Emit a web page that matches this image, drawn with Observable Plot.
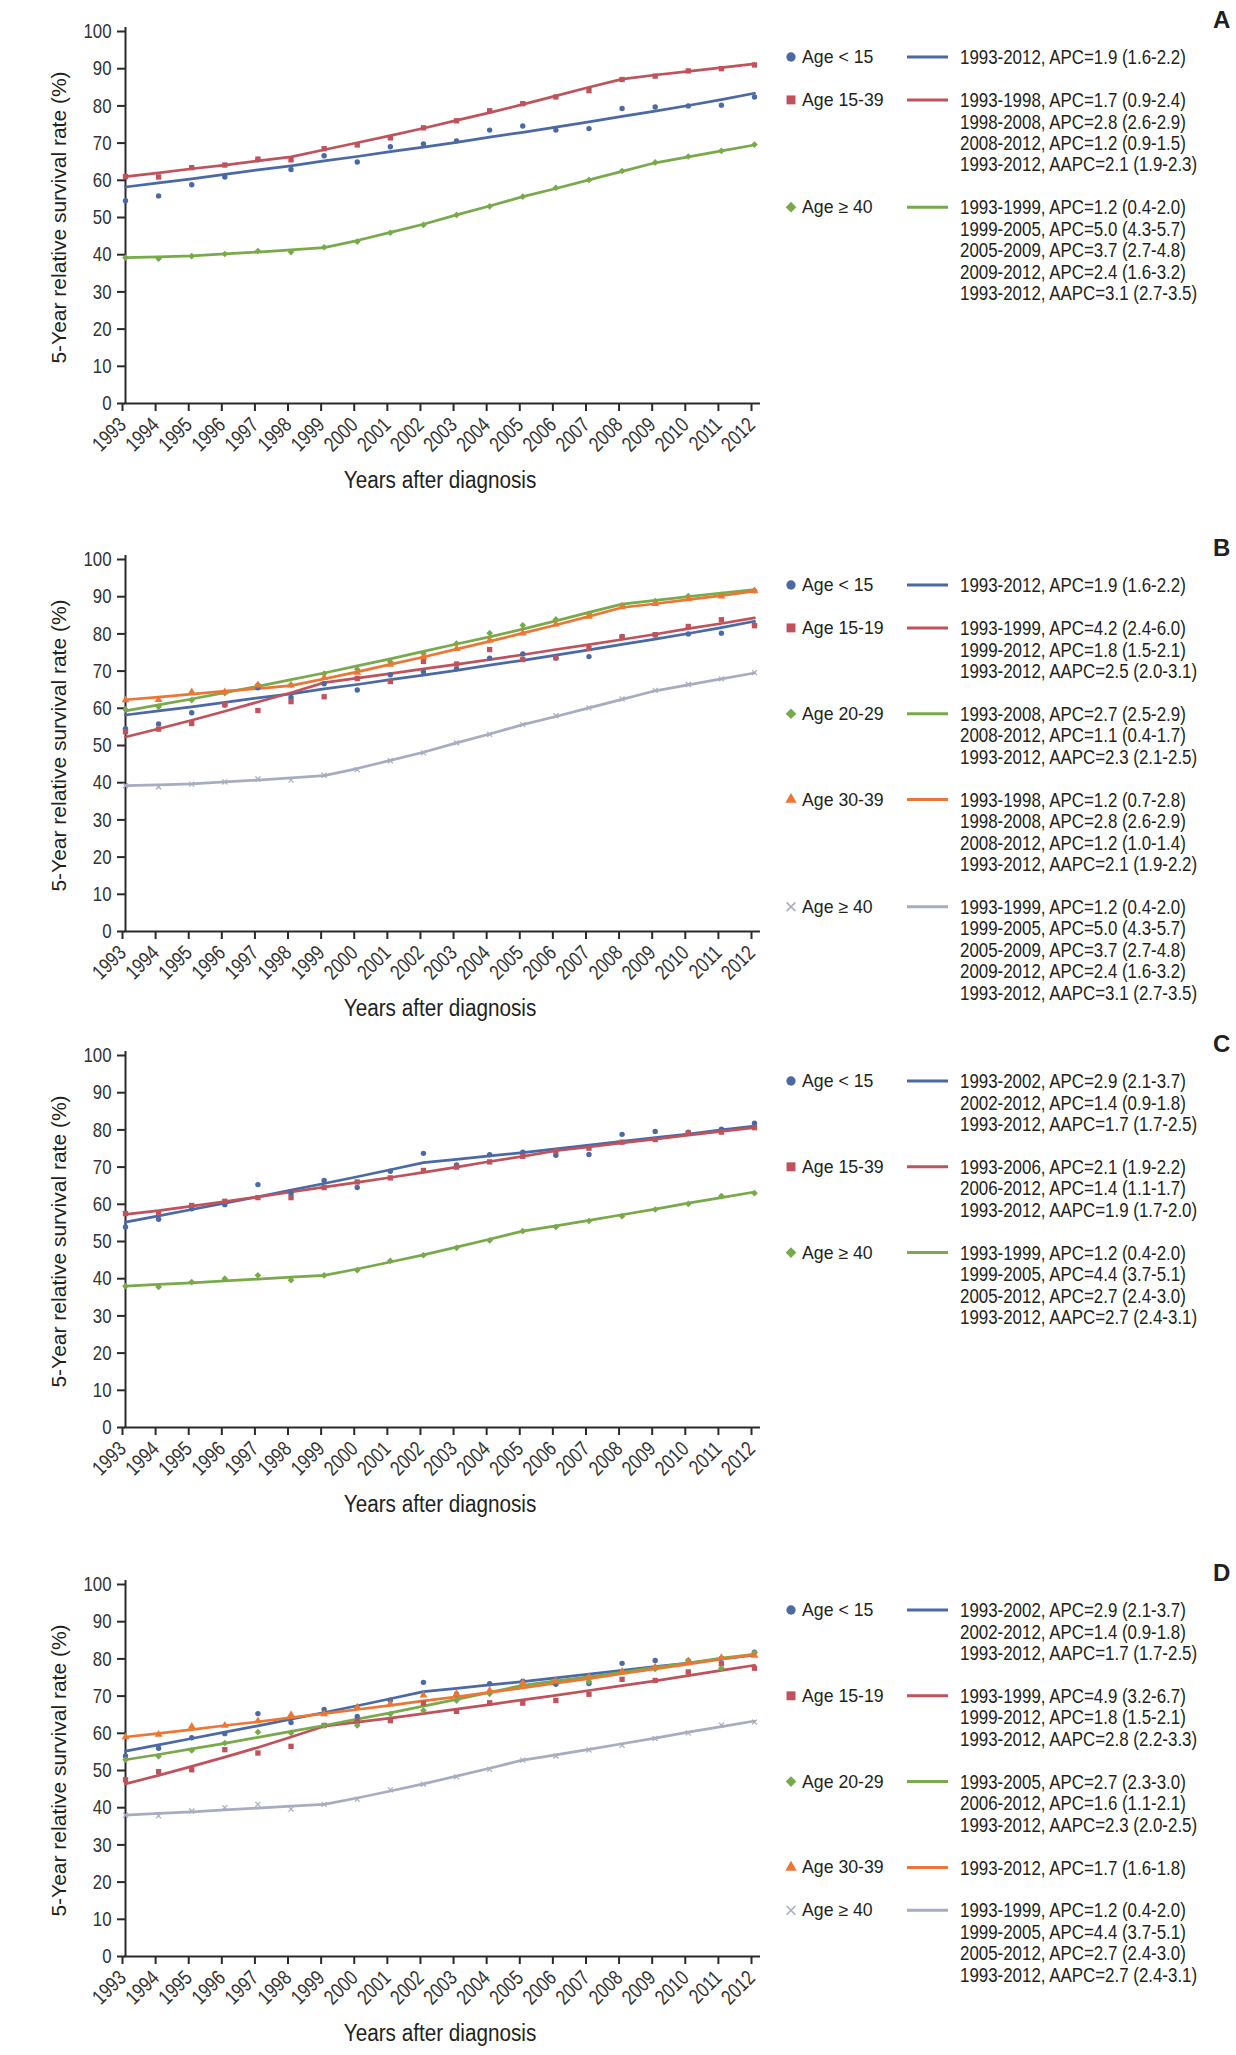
<!DOCTYPE html>
<html><head><meta charset="utf-8">
<script src="https://cdn.jsdelivr.net/npm/d3@7"></script>
<script src="https://cdn.jsdelivr.net/npm/@observablehq/plot@0.6"></script>
<style>
html,body{margin:0;padding:0;background:#fff;}
#page{position:relative;width:1236px;height:2055px;overflow:hidden;background:#fff;font-family:"Liberation Sans",Arial,sans-serif;color:#231f20;}
.plotbox{position:absolute;left:0;width:780px;}
#legend{position:absolute;left:0;top:0;pointer-events:none;}
</style></head><body><div id="page"></div>
<script>
// ---------- shared axes ----------
const years = [1993,1994,1995,1996,1997,1998,1999,2000,2001,2002,2003,2004,2005,2006,2007,2008,2009,2010,2011,2012];
const yTicks = [0,10,20,30,40,50,60,70,80,90,100];
const xTitle = "Years after diagnosis";
const yTitle = "5-Year relative survival rate (%)";
const panelLetters = ["A","B","C","D"];

// ---------- panels A & B : shared series ----------
const ab_lt15_obs = [54.5,55.8,58.8,60.9,65.5,62.9,66.6,64.9,69.0,69.8,70.6,73.5,74.6,73.5,73.9,79.3,79.7,80.0,80.2,82.4];
const ab_lt15_fit = [58.2,59.3,60.4,61.6,62.8,63.9,65.2,66.4,67.7,68.9,70.2,71.6,72.9,74.3,75.7,77.2,78.6,80.1,81.7,83.4];
const ab_ge40_obs = [39.2,38.9,39.6,40.2,41.0,40.7,42.0,43.5,45.9,48.0,50.7,53.0,55.6,58.0,60.1,62.5,64.8,66.4,67.9,69.6];
const ab_ge40_fit = [39.2,39.4,39.7,40.2,40.7,41.3,41.9,43.8,46.0,48.2,50.7,53.1,55.6,57.8,60.1,62.4,64.7,66.3,67.9,69.5];
// panel A : 15-39
const a_15_39_obs = [61.0,60.9,63.4,64.1,65.7,65.5,68.5,69.5,71.4,74.1,76.0,78.7,80.6,82.4,84.1,87.1,88.0,89.4,90.0,91.0];
const a_15_39_fit = [61.0,62.0,63.1,64.1,65.2,66.3,68.2,70.1,72.0,74.0,76.1,78.2,80.4,82.7,85.0,87.2,88.3,89.3,90.3,91.3];
// panel B : 15-19, 20-29, 30-39
const b_15_19_obs = [53.7,54.4,55.9,61.0,59.4,61.8,63.1,68.0,67.2,72.6,71.9,75.8,73.1,73.6,76.1,79.2,79.8,82.0,83.8,82.2];
const b_15_19_fit = [52.3,54.5,56.8,59.2,61.7,64.2,66.9,68.1,69.3,70.6,71.8,73.1,74.4,75.8,77.1,78.5,79.9,81.4,82.8,84.3];
const b_20_29_obs = [59.7,60.4,62.2,64.1,66.4,66.3,69.3,70.5,72.5,74.7,77.4,80.2,82.3,83.9,85.4,87.7,88.8,90.2,90.5,91.7];
const b_20_29_fit = [59.3,60.9,62.5,64.2,65.9,67.7,69.5,71.4,73.3,75.3,77.3,79.2,81.3,83.5,85.8,88.0,89.0,90.0,91.0,91.9];
const b_30_39_obs = [62.2,62.3,64.4,64.4,66.2,66.2,68.2,69.6,71.8,73.8,76.0,78.3,80.2,82.6,84.7,87.2,88.1,89.4,90.1,91.5];
const b_30_39_fit = [62.3,63.0,63.8,64.6,65.3,66.1,67.9,69.8,71.8,73.8,75.9,78.0,80.2,82.4,84.7,87.1,88.1,89.2,90.3,91.5];

// ---------- panels C & D : shared series ----------
const cd_lt15_obs = [53.9,56.0,58.8,59.9,65.3,62.9,66.4,64.5,68.9,73.7,70.6,73.3,74.0,73.2,73.4,78.8,79.6,79.4,80.2,81.8];
const cd_lt15_fit = [55.2,56.9,58.6,60.3,62.0,63.8,65.6,67.4,69.3,71.2,72.1,73.0,73.9,74.9,75.9,76.9,77.9,78.9,80.0,81.0];
const cd_ge40_obs = [38.0,37.8,39.1,40.0,40.9,39.6,40.9,42.3,44.8,46.3,48.3,50.3,52.8,53.9,55.5,56.8,58.6,60.1,62.2,63.0];
const cd_ge40_fit = [38.0,38.5,38.9,39.4,39.9,40.4,40.9,42.6,44.5,46.4,48.5,50.6,52.8,54.2,55.7,57.2,58.7,60.3,61.8,63.3];
// panel C : 15-39
const c_15_39_obs = [57.5,57.7,59.7,60.8,61.8,61.8,64.5,66.0,67.1,69.1,70.0,71.4,72.9,74.3,75.1,76.7,77.4,79.2,79.4,80.6];
const c_15_39_fit = [57.3,58.3,59.5,60.7,62.0,63.3,64.6,65.9,67.2,68.6,70.0,71.5,72.9,74.4,75.4,76.5,77.5,78.6,79.6,80.6];
// panel D : 15-19, 20-29, 30-39
const d_15_19_obs = [47.5,49.7,50.2,55.6,54.7,56.5,62.1,63.2,63.4,68.1,65.9,68.2,68.1,68.8,70.5,74.5,74.2,76.5,78.7,77.5];
const d_15_19_fit = [46.4,48.7,51.1,53.6,56.2,59.0,61.9,63.0,64.1,65.3,66.5,67.7,69.0,70.2,71.5,72.8,74.1,75.5,76.9,78.3];
const d_20_29_obs = [52.9,53.8,55.4,57.4,60.3,60.1,62.1,62.1,65.2,66.1,68.8,70.6,73.6,74.2,73.9,76.4,77.3,79.7,77.5,81.7];
const d_20_29_fit = [52.9,54.3,55.8,57.3,58.9,60.5,62.1,63.8,65.5,67.3,69.1,71.0,72.9,74.1,75.2,76.4,77.7,78.9,80.2,81.2];
const d_30_39_obs = [59.0,59.7,61.8,62.1,63.3,65.0,65.2,67.0,67.9,70.2,70.6,71.5,73.5,73.9,75.1,76.6,77.8,79.1,80.3,80.9];
const d_30_39_fit = [59.0,60.0,61.0,62.1,63.1,64.2,65.3,66.4,67.5,68.7,69.8,71.0,72.2,73.5,74.7,76.0,77.3,78.6,79.9,81.2];

// ---------- legend texts ----------
const lab_lt15 = "Age < 15", lab_15_39 = "Age 15-39", lab_ge40 = "Age \u2265 40",
      lab_15_19 = "Age 15-19", lab_20_29 = "Age 20-29", lab_30_39 = "Age 30-39";
const ab_lt15_apc = ["1993-2012, APC=1.9 (1.6-2.2)"];
const a_15_39_apc = ["1993-1998, APC=1.7 (0.9-2.4)","1998-2008, APC=2.8 (2.6-2.9)","2008-2012, APC=1.2 (0.9-1.5)","1993-2012, AAPC=2.1 (1.9-2.3)"];
const ab_ge40_apc = ["1993-1999, APC=1.2 (0.4-2.0)","1999-2005, APC=5.0 (4.3-5.7)","2005-2009, APC=3.7 (2.7-4.8)","2009-2012, APC=2.4 (1.6-3.2)","1993-2012, AAPC=3.1 (2.7-3.5)"];
const b_15_19_apc = ["1993-1999, APC=4.2 (2.4-6.0)","1999-2012, APC=1.8 (1.5-2.1)","1993-2012, AAPC=2.5 (2.0-3.1)"];
const b_20_29_apc = ["1993-2008, APC=2.7 (2.5-2.9)","2008-2012, APC=1.1 (0.4-1.7)","1993-2012, AAPC=2.3 (2.1-2.5)"];
const b_30_39_apc = ["1993-1998, APC=1.2 (0.7-2.8)","1998-2008, APC=2.8 (2.6-2.9)","2008-2012, APC=1.2 (1.0-1.4)","1993-2012, AAPC=2.1 (1.9-2.2)"];
const cd_lt15_apc = ["1993-2002, APC=2.9 (2.1-3.7)","2002-2012, APC=1.4 (0.9-1.8)","1993-2012, AAPC=1.7 (1.7-2.5)"];
const c_15_39_apc = ["1993-2006, APC=2.1 (1.9-2.2)","2006-2012, APC=1.4 (1.1-1.7)","1993-2012, AAPC=1.9 (1.7-2.0)"];
const cd_ge40_apc = ["1993-1999, APC=1.2 (0.4-2.0)","1999-2005, APC=4.4 (3.7-5.1)","2005-2012, APC=2.7 (2.4-3.0)","1993-2012, AAPC=2.7 (2.4-3.1)"];
const d_15_19_apc = ["1993-1999, APC=4.9 (3.2-6.7)","1999-2012, APC=1.8 (1.5-2.1)","1993-2012, AAPC=2.8 (2.2-3.3)"];
const d_20_29_apc = ["1993-2005, APC=2.7 (2.3-3.0)","2006-2012, APC=1.6 (1.1-2.1)","1993-2012, AAPC=2.3 (2.0-2.5)"];
const d_30_39_apc = ["1993-2012, APC=1.7 (1.6-1.8)"];

// ---------- fonts ----------
function hasFont(name) {
  const c = document.createElement("canvas").getContext("2d");
  const s = "1993-2012, AAPC=2.1 (1.9-2.3) Years";
  let same = true;
  for (const fb of ["monospace", "serif"]) {
    c.font = `40px ${fb}`; const a = c.measureText(s).width;
    c.font = `40px "${name}", ${fb}`; const b = c.measureText(s).width;
    if (Math.abs(a - b) > 0.5) same = false;
  }
  return !same;
}
const FONT = '"Liberation Sans", Arial, Helvetica, sans-serif';
const NARROW = hasFont("Liberation Sans Narrow");
const CFONT = NARROW ? '"Liberation Sans Narrow", "Liberation Sans", Arial, sans-serif' : FONT;
const CK = NARROW ? 1 : 0.805;   // horizontal squeeze when no narrow face exists

// ---------- styles ----------
const axisCol = "#2a2a2a", tickCol = "#333333", txtCol = "#231f20";
const S = {
  blue:   {color:"#4b69a5", symbol:"circle",   r:2.7, leg:d3.symbolCircle,   size:68},
  red:    {color:"#c0525c", symbol:"square",   r:3.0, leg:d3.symbolSquare,   size:80},
  green:  {color:"#78aa4b", symbol:"diamond2", r:3.0, leg:d3.symbolDiamond2, size:72},
  orange: {color:"#ee7634", symbol:"triangle", r:2.9, leg:d3.symbolTriangle, size:56},
  gray:   {color:"#a6adbf", symbol:"times",    r:2.4, leg:d3.symbolTimes,    size:52}
};

const panels = [
  {y100: 31, groups: [
    {label: lab_lt15, st: S.blue, obs: ab_lt15_obs, fit: ab_lt15_fit, apc: ab_lt15_apc},
    {label: lab_15_39, st: S.red, obs: a_15_39_obs, fit: a_15_39_fit, apc: a_15_39_apc},
    {label: lab_ge40, st: S.green, obs: ab_ge40_obs, fit: ab_ge40_fit, apc: ab_ge40_apc}]},
  {y100: 559, groups: [
    {label: lab_lt15, st: S.blue, obs: ab_lt15_obs, fit: ab_lt15_fit, apc: ab_lt15_apc},
    {label: lab_15_19, st: S.red, obs: b_15_19_obs, fit: b_15_19_fit, apc: b_15_19_apc},
    {label: lab_20_29, st: S.green, obs: b_20_29_obs, fit: b_20_29_fit, apc: b_20_29_apc},
    {label: lab_30_39, st: S.orange, obs: b_30_39_obs, fit: b_30_39_fit, apc: b_30_39_apc},
    {label: lab_ge40, st: S.gray, obs: ab_ge40_obs, fit: ab_ge40_fit, apc: ab_ge40_apc}]},
  {y100: 1055, groups: [
    {label: lab_lt15, st: S.blue, obs: cd_lt15_obs, fit: cd_lt15_fit, apc: cd_lt15_apc},
    {label: lab_15_39, st: S.red, obs: c_15_39_obs, fit: c_15_39_fit, apc: c_15_39_apc},
    {label: lab_ge40, st: S.green, obs: cd_ge40_obs, fit: cd_ge40_fit, apc: cd_ge40_apc}]},
  {y100: 1584, groups: [
    {label: lab_lt15, st: S.blue, obs: cd_lt15_obs, fit: cd_lt15_fit, apc: cd_lt15_apc},
    {label: lab_15_19, st: S.red, obs: d_15_19_obs, fit: d_15_19_fit, apc: d_15_19_apc},
    {label: lab_20_29, st: S.green, obs: d_20_29_obs, fit: d_20_29_fit, apc: d_20_29_apc},
    {label: lab_30_39, st: S.orange, obs: d_30_39_obs, fit: d_30_39_fit, apc: d_30_39_apc},
    {label: lab_ge40, st: S.gray, obs: cd_ge40_obs, fit: cd_ge40_fit, apc: cd_ge40_apc}]}
];

const page = document.getElementById("page");
const rows = arr => years.map((yr, i) => ({year: yr, value: arr[i]}));

function squeeze(root, selector, k) {
  if (k === 1) return;
  root.querySelectorAll(selector).forEach(t => {
    const L = t.getComputedTextLength();
    if (L > 0) { t.setAttribute("textLength", (L * k).toFixed(2)); t.setAttribute("lengthAdjust", "spacingAndGlyphs"); }
  });
}

const MT = 31, PH = 372, H = 500;
const tickFont = NARROW ? 20.5 : 21;
panels.forEach((p) => {
  const order = [p.groups[p.groups.length - 1], ...p.groups.slice(0, -1)];
  const chart = Plot.plot({
    width: 780, height: H,
    marginLeft: 125, marginRight: 26, marginTop: MT, marginBottom: H - MT - PH,
    style: {fontFamily: CFONT, fontSize: tickFont + "px", color: tickCol, background: "transparent", overflow: "visible"},
    x: {domain: [1993, 2012]},
    y: {domain: [0, 100]},
    marks: [
      Plot.axisY({ticks: yTicks, tickSize: 8, tickPadding: 6, tickFormat: d => String(d), label: null, stroke: axisCol, strokeWidth: 2, fill: tickCol}),
      Plot.axisX({ticks: years, tickSize: 8, tickPadding: 10, dx: -3, tickRotate: -45, tickFormat: d => String(d), label: null, stroke: axisCol, strokeWidth: 2, fill: tickCol}),
      Plot.ruleY([0], {stroke: axisCol, strokeWidth: 2, insetRight: -6, insetLeft: -1}),
      Plot.ruleX([1993], {stroke: axisCol, strokeWidth: 2, insetTop: -4, insetBottom: -1}),
      ...order.map(g => Plot.line(rows(g.fit), {x: "year", y: "value", stroke: g.st.color, strokeWidth: 2.7, strokeLinejoin: "round", strokeLinecap: "round"})),
      ...order.map(g => Plot.dot(rows(g.obs), {x: "year", y: "value", symbol: g.st.symbol, r: g.st.r,
          fill: g.st.symbol === "times" ? "none" : g.st.color,
          stroke: g.st.symbol === "times" ? g.st.color : "none", strokeWidth: 1.2})),
      Plot.text([xTitle], {text: d => d, frameAnchor: "bottom", lineAnchor: "middle", textAnchor: "middle", dy: 77,
          fontSize: NARROW ? 23.5 : 23, fill: txtCol}),
      Plot.text([yTitle], {text: d => d, frameAnchor: "left", lineAnchor: "middle", textAnchor: "middle", dx: -66, rotate: -90,
          fontSize: 21, fontFamily: FONT, fill: txtCol})
    ]
  });
  const box = document.createElement("div");
  box.className = "plotbox";
  box.style.top = (p.y100 - MT) + "px";
  box.appendChild(chart);
  page.appendChild(box);
  squeeze(chart, 'g[aria-label="x-axis tick label"] text', CK === 1 ? 1 : 0.8);
  squeeze(chart, 'g[aria-label="y-axis tick label"] text', CK === 1 ? 1 : 0.8);
  if (!NARROW) chart.querySelectorAll('g[aria-label="text"] text').forEach(t => {
    if (t.textContent === xTitle) {
      const L = t.getComputedTextLength();
      t.setAttribute("textLength", (L * 0.9).toFixed(2)); t.setAttribute("lengthAdjust", "spacingAndGlyphs");
    }
  });
});

// ---------- legends (right side) ----------
const leg = d3.select(page).append("svg").attr("id", "legend").attr("width", 1236).attr("height", 2055)
  .style("font-family", FONT);
const STEP = 21.45;
panels.forEach((p, pi) => {
  leg.append("text").attr("x", 1213).attr("y", p.y100 - 3.5).attr("font-size", 24).attr("font-weight", "bold")
    .attr("fill", txtCol).text(panelLetters[pi]);
  let line = 0;
  const first = p.y100 + 26;
  p.groups.forEach(g => {
    const cy = first + line * STEP;
    const sym = leg.append("path").attr("transform", `translate(791,${cy})`)
      .attr("d", d3.symbol(g.st.leg, g.st.size)());
    if (g.st.symbol === "times") sym.attr("fill", "none").attr("stroke", g.st.color).attr("stroke-width", 1.5);
    else sym.attr("fill", g.st.color);
    leg.append("text").attr("x", 802).attr("y", cy).attr("dominant-baseline", "central")
      .attr("font-size", 17.7).attr("fill", txtCol).text(g.label);
    leg.append("line").attr("x1", 907).attr("x2", 948).attr("y1", cy).attr("y2", cy)
      .attr("stroke", g.st.color).attr("stroke-width", 3);
    g.apc.forEach((s, k) => {
      leg.append("g").attr("transform", `translate(960,${cy + k * STEP}) scale(${CK},1)`)
        .append("text").attr("x", 0).attr("y", 0)
        .attr("dominant-baseline", "central").attr("font-size", NARROW ? 20.5 : 21)
        .attr("font-family", CFONT).attr("fill", txtCol).text(s);
    });
    line += g.apc.length + 1;
  });
});
</script></body></html>
